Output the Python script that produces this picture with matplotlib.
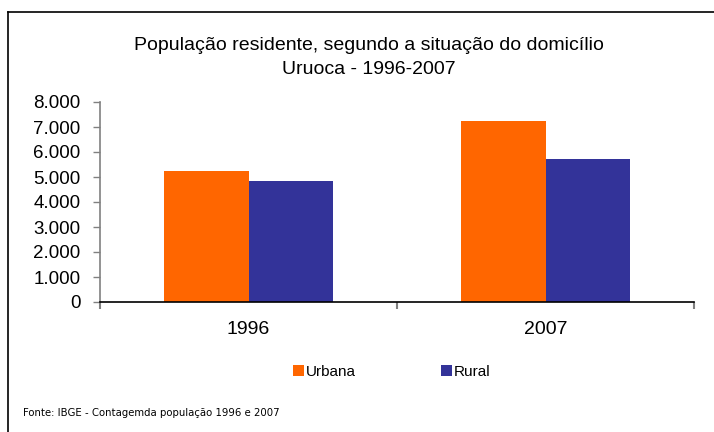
import matplotlib
matplotlib.use("Agg")
import matplotlib.pyplot as plt
from matplotlib.patches import Patch
from matplotlib.lines import Line2D
import numpy as np

categories = ["1996", "2007"]
urbana = [5240, 7240]
rural = [4840, 5720]
series_names = ["Urbana", "Rural"]
yticks = [0, 1000, 2000, 3000, 4000, 5000, 6000, 7000, 8000]
ytick_labels = ["0", "1.000", "2.000", "3.000", "4.000", "5.000", "6.000", "7.000", "8.000"]
title = "População residente, segundo a situação do domicílio\nUruoca - 1996-2007"
source = "Fonte: IBGE - Contagemda população 1996 e 2007"

c_urb = "#FF6600"
c_rur = "#333399"

W, H = 714, 432
fig = plt.figure(figsize=(W/100, H/100), dpi=100)
plt.rcParams['font.family'] = ['Liberation Sans', 'DejaVu Sans']

ax = fig.add_axes([100/W, 1-302/H, 594/W, 200/H])
x = np.arange(len(categories))
bw = 0.286
ax.bar(x - bw/2, urbana, bw, color=c_urb, zorder=2)
ax.bar(x + bw/2, rural, bw, color=c_rur, zorder=2)
ax.set_xlim(-0.5, 1.5)
ax.set_ylim(0, 8000)
ax.set_yticks(yticks)
ax.set_yticklabels(ytick_labels, fontsize=13.5)
ax.tick_params(axis='y', direction='out', length=5, color='#808080', width=1, pad=9)
ax.set_xticks([-0.5, 0.5, 1.5])
ax.set_xticklabels(["", "", ""])
ax.tick_params(axis='x', which='major', direction='out', length=5, color='#808080', width=1.5)
ax.set_xticks(x, minor=True)
ax.set_xticklabels(categories, minor=True, fontsize=14)
ax.tick_params(axis='x', which='minor', length=0, pad=14)
for s in ['top', 'right']:
    ax.spines[s].set_visible(False)
ax.spines['left'].set_color('#808080')
ax.spines['left'].set_linewidth(1.2)
ax.spines['bottom'].set_color('black')
ax.spines['bottom'].set_linewidth(1.2)

fig.text(369/W, 1-45/H, title.split("\n")[0], ha='center', va='center', fontsize=14)
fig.text(369/W, 1-70/H, title.split("\n")[1], ha='center', va='center', fontsize=14)

handles = [Patch(facecolor=c_urb), Patch(facecolor=c_rur)]
leg = fig.legend(handles, series_names, loc='center', bbox_to_anchor=(392/W, 1-372/H),
                 ncol=2, frameon=False, fontsize=11, handlelength=0.7, handleheight=0.7,
                 handletextpad=0.15, columnspacing=5.55)

fig.text(23/W, 1-413/H, source, ha='left', va='center', fontsize=7.3,
         family=['DejaVu Sans'])

# outer frame (top and left edges visible)
fig.add_artist(Line2D([8/W, 1], [1-12/H, 1-12/H], color='black', lw=1.2, transform=fig.transFigure))
fig.add_artist(Line2D([8/W, 8/W], [0, 1-12/H], color='black', lw=1.2, transform=fig.transFigure))

fig.savefig("out.png", dpi=100)
